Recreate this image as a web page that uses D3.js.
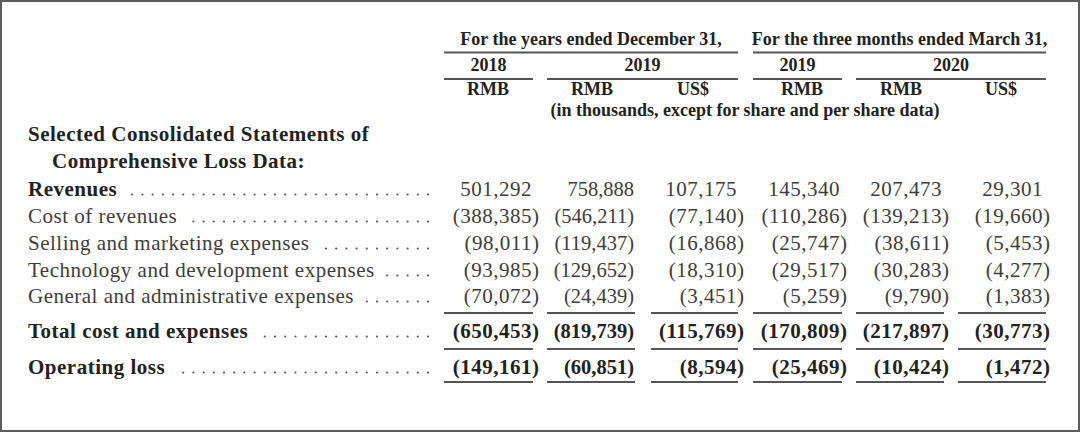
<!DOCTYPE html>
<html>
<head>
<meta charset="utf-8">
<script src="https://cdn.jsdelivr.net/npm/d3@7"></script>
<style>
  html, body { margin: 0; padding: 0; background: #fff; }
  svg { display: block; }
  text { font-family: "Liberation Serif", "Times New Roman", serif; }
</style>
</head>
<body>
<script>
// ---------- data ----------
const rowLabels = [
  "Revenues",
  "Cost of revenues",
  "Selling and marketing expenses",
  "Technology and development expenses",
  "General and administrative expenses",
  "Total cost and expenses",
  "Operating loss"
];
const boldLabelRows = ["Revenues", "Total cost and expenses", "Operating loss"];
const boldValueRows = ["Total cost and expenses", "Operating loss"];
const sectionTitle = ["Selected Consolidated Statements of", "Comprehensive Loss Data:"];

const columns = ["y2018RMB", "y2019RMB", "y2019USD", "q2019RMB", "q2020RMB", "q2020USD"];
const currencyLabels = ["RMB", "RMB", "US$", "RMB", "RMB", "US$"];
const groupLabels = ["For the years ended December 31,", "For the three months ended March 31,"];
const yearLabels = ["2018", "2019", "2019", "2020"];
const unitNote = "(in thousands, except for share and per share data)";

const y2018RMB = [501292, -388385, -98011, -93985, -70072, -650453, -149161];
const y2019RMB = [758888, -546211, -119437, -129652, -24439, -819739, -60851];
const y2019USD = [107175, -77140, -16868, -18310, -3451, -115769, -8594];
const q2019RMB = [145340, -110286, -25747, -29517, -5259, -170809, -25469];
const q2020RMB = [207473, -139213, -38611, -30283, -9790, -217897, -10424];
const q2020USD = [29301, -19660, -5453, -4277, -1383, -30773, -1472];
const series = [y2018RMB, y2019RMB, y2019USD, q2019RMB, q2020RMB, q2020USD];

// ---------- layout ----------
const W = 1080, H = 432;
const svg = d3.select("body").append("svg").attr("width", W).attr("height", H);

svg.append("rect").attr("x", 1).attr("y", 1).attr("width", W - 2).attr("height", H - 2)
  .attr("fill", "#fff").attr("stroke", "#5c5c5c").attr("stroke-width", 2);

// scales
const yRow = d3.scaleOrdinal().domain(rowLabels).range([196, 223, 250, 277, 303, 338, 374]);
const colLeft = d3.scaleOrdinal().domain(columns).range([444, 547, 651, 753, 856, 958]);
const colRight = d3.scaleOrdinal().domain(columns).range([533, 635, 738, 842, 944, 1046]);
const numRight = d3.scaleOrdinal().domain(columns).range([532, 634, 737, 840, 942, 1043]);
const hangParen = d3.scaleOrdinal().domain(columns).range([true, false, true, true, true, true]);
const colFont = d3.scaleOrdinal().domain(columns).range([21, 20.5, 21, 21, 21, 21]);
const colSpacing = d3.scaleOrdinal().domain(columns).range([0.5, 0, 0.5, 0.5, 0.5, 0.5]);
const curCenters = d3.scaleOrdinal().domain(columns).range([488, 592, 693, 802, 901, 1001]);

const ink = "#222", soft = "#3d3d3d", rule = "#555";
const fmt = d3.format(",");

// ---------- header ----------
const hdr = svg.append("g").attr("font-weight", "bold").attr("fill", ink).attr("font-size", 18);
const groupSpans = [[columns[0], columns[2]], [columns[3], columns[5]]];
groupSpans.forEach((s, i) => {
  const x0 = colLeft(s[0]), x1 = colRight(s[1]);
  hdr.append("text").attr("x", (x0 + x1) / 2).attr("y", 45).attr("text-anchor", "middle").text(groupLabels[i]);
  svg.append("line").attr("x1", x0).attr("x2", x1).attr("y1", 52.5).attr("y2", 52.5)
    .attr("stroke", rule).attr("stroke-width", 2);
});
const yearSpans = [[columns[0], columns[0]], [columns[1], columns[2]], [columns[3], columns[3]], [columns[4], columns[5]]];
yearSpans.forEach((s, i) => {
  const x0 = colLeft(s[0]), x1 = colRight(s[1]);
  hdr.append("text").attr("x", (x0 + x1) / 2).attr("y", 71).attr("text-anchor", "middle").text(yearLabels[i]);
  svg.append("line").attr("x1", x0).attr("x2", x1).attr("y1", 79).attr("y2", 79)
    .attr("stroke", rule).attr("stroke-width", 2);
});
columns.forEach((c, i) => {
  hdr.append("text").attr("x", curCenters(c)).attr("y", 95).attr("text-anchor", "middle").text(currencyLabels[i]);
});
hdr.append("text").attr("x", 745).attr("y", 115.5).attr("text-anchor", "middle").text(unitNote);

// ---------- row labels ----------
const lab = svg.append("g").attr("font-size", 21).attr("letter-spacing", 0.5);
lab.append("text").attr("x", 28).attr("y", 141).attr("font-weight", "bold").attr("fill", ink).text(sectionTitle[0]);
lab.append("text").attr("x", 52).attr("y", 168).attr("font-weight", "bold").attr("fill", ink).text(sectionTitle[1]);

const dotEnd = 428, dotStep = 10.2;
rowLabels.forEach(r => {
  const isBold = boldLabelRows.includes(r);
  const t = lab.append("text").attr("x", 28).attr("y", yRow(r))
    .attr("font-weight", isBold ? "bold" : "normal").attr("fill", isBold ? ink : soft).text(r);
  const end = 28 + t.node().getComputedTextLength();
  const dots = [];
  for (let x = dotEnd; x > end + 10; x -= dotStep) dots.push(x);
  lab.selectAll(null).data(dots).enter().append("circle")
    .attr("cx", d => d).attr("cy", yRow(r) - 1.5).attr("r", 1.1).attr("fill", "#555");
});

// ---------- values ----------
const vals = svg.append("g");
columns.forEach((c, ci) => {
  series[ci].forEach((v, ri) => {
    const r = rowLabels[ri];
    const isBold = boldValueRows.includes(r);
    const g = vals.append("g").attr("font-size", colFont(c)).attr("letter-spacing", colSpacing(c))
      .attr("font-weight", isBold ? "bold" : "normal").attr("fill", isBold ? ink : soft);
    if (v >= 0) {
      g.append("text").attr("x", numRight(c)).attr("y", yRow(r)).attr("text-anchor", "end").text(fmt(v));
    } else if (hangParen(c)) {
      g.append("text").attr("x", numRight(c)).attr("y", yRow(r)).attr("text-anchor", "end").text("(" + fmt(-v));
      g.append("text").attr("x", numRight(c)).attr("y", yRow(r)).attr("text-anchor", "start").text(")");
    } else {
      g.append("text").attr("x", numRight(c)).attr("y", yRow(r)).attr("text-anchor", "end").text("(" + fmt(-v) + ")");
    }
  });
  [313, 349, 382].forEach(y => {
    svg.append("line").attr("x1", colLeft(c)).attr("x2", colRight(c)).attr("y1", y).attr("y2", y)
      .attr("stroke", rule).attr("stroke-width", 2);
  });
});
</script>
</body>
</html>
